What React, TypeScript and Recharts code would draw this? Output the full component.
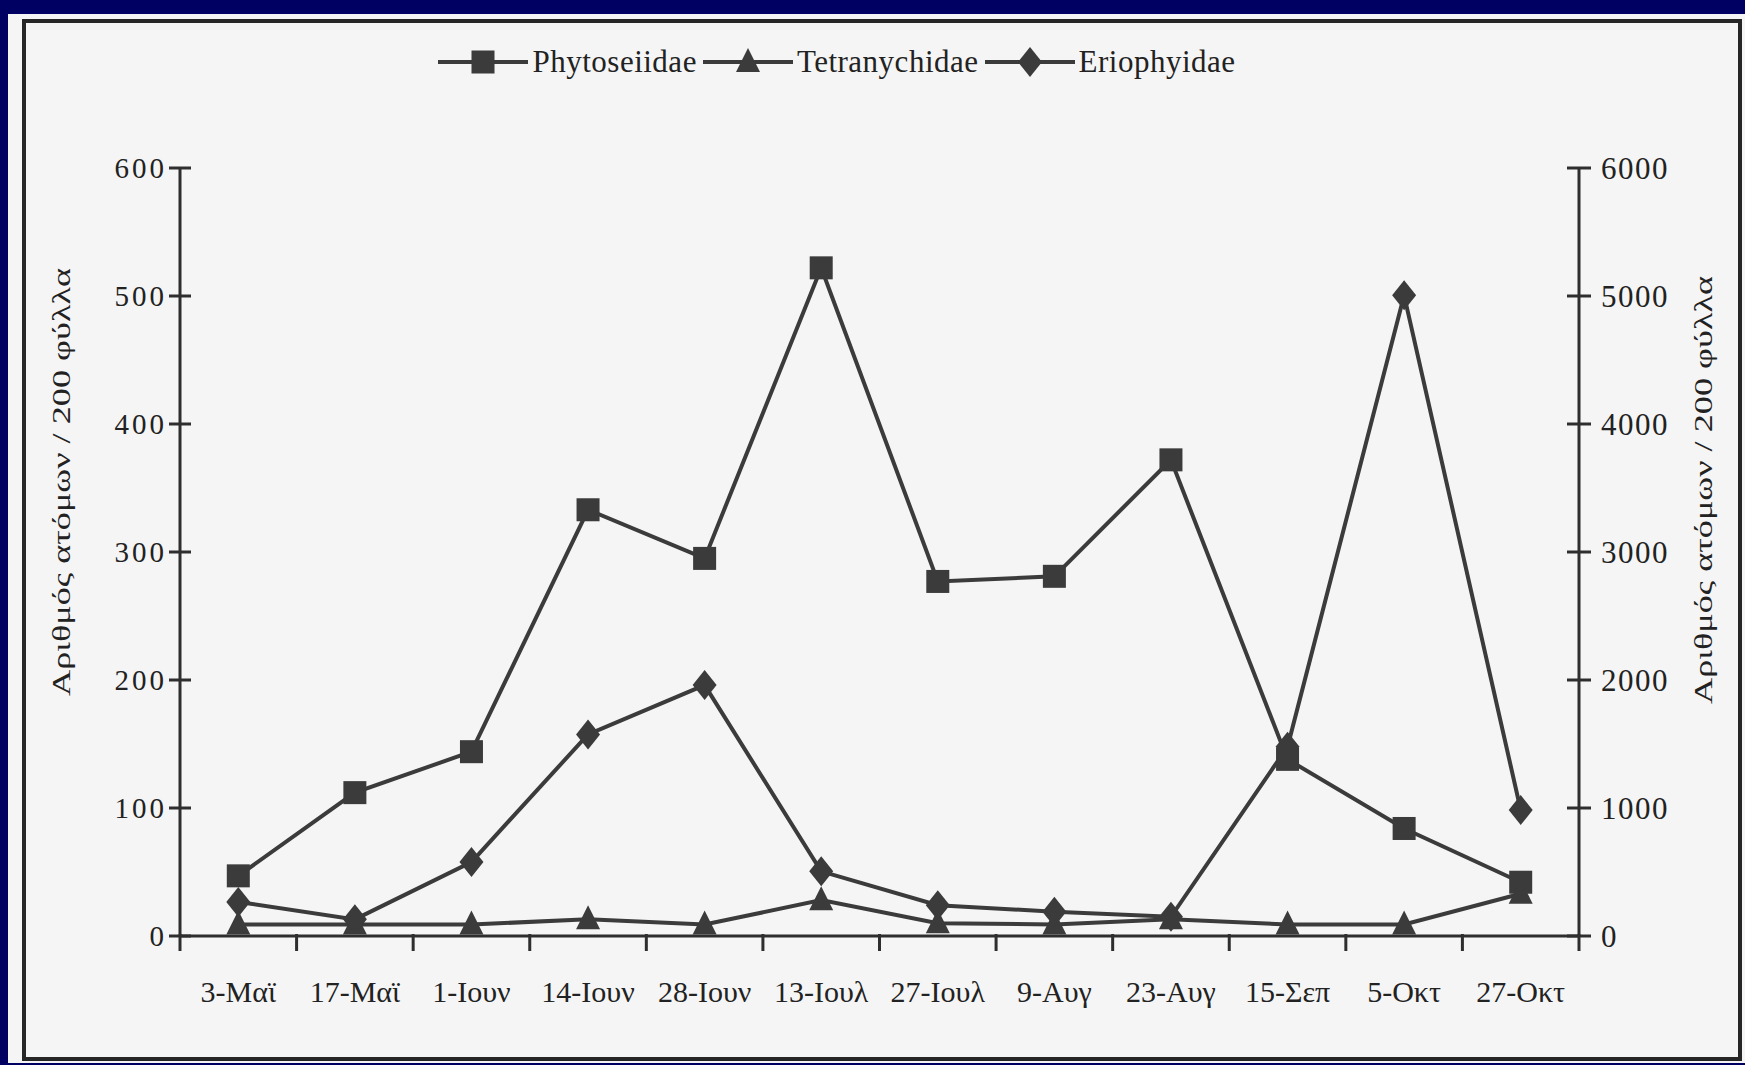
import { LineChart, Line, XAxis, YAxis, Legend, Label } from 'recharts';

const dates = ['3-Μαϊ', '17-Μαϊ', '1-Ιουν', '14-Ιουν', '28-Ιουν', '13-Ιουλ', '27-Ιουλ', '9-Αυγ', '23-Αυγ', '15-Σεπ', '5-Οκτ', '27-Οκτ'];
const phytoseiidae = [47, 112, 144, 333, 295, 522, 277, 281, 372, 138, 84, 42];
const tetranychidae = [9, 9, 9, 13, 9, 28, 10, 9, 13, 9, 9, 33];
const eriophyidae = [266, 130, 578, 1575, 1960, 505, 240, 190, 150, 1478, 5005, 984];

const seriesNames = ['Phytoseiidae', 'Tetranychidae', 'Eriophyidae'];
const leftTicks = [0, 100, 200, 300, 400, 500, 600];
const rightTicks = [0, 1000, 2000, 3000, 4000, 5000, 6000];
const axisTitle = 'Αριθμός ατόμων / 200 φύλλα';

const data = dates.map((date, i) => ({
  date,
  Phytoseiidae: phytoseiidae[i],
  Tetranychidae: tetranychidae[i],
  Eriophyidae: eriophyidae[i],
}));

const SERIF = '"Liberation Serif", "DejaVu Serif", serif';
const INK = '#2e2e2e';
const LINE = '#3b3b3b';
const TEXT = '#222';

// tick geometry (recharts places tick text at axis +/- tickSize + tickMargin)
const L_TICK = 11;
const L_GAP = 2;
const R_TICK = 12;
const R_GAP = 10;
const X_GAP = 45;
const X_TICK = 15;

type Shape = 'square' | 'triangle' | 'diamond';
const shapes: Record<string, Shape> = {
  Phytoseiidae: 'square',
  Tetranychidae: 'triangle',
  Eriophyidae: 'diamond',
};

function marker(shape: Shape, cx: number, cy: number, key?: string) {
  if (shape === 'square') {
    return <rect key={key} x={cx - 11.5} y={cy - 11.5} width={23} height={23} fill={LINE} />;
  }
  if (shape === 'triangle') {
    return (
      <polygon
        key={key}
        points={`${cx},${cy - 14} ${cx + 12},${cy + 10} ${cx - 12},${cy + 10}`}
        fill={LINE}
      />
    );
  }
  return (
    <polygon
      key={key}
      points={`${cx},${cy - 15} ${cx + 12},${cy} ${cx},${cy + 15} ${cx - 12},${cy}`}
      fill={LINE}
    />
  );
}

const dotFor = (name: string) => (p: any) =>
  marker(shapes[name], p.cx, p.cy, `${name}-${p.index}`);

function LeftTick(props: any) {
  const { x, y, payload } = props;
  const axisX = x + L_TICK + L_GAP;
  return (
    <g>
      <line x1={axisX} x2={axisX + L_TICK} y1={y} y2={y} stroke={INK} strokeWidth={3} />
      <text x={x} y={y} dy="0.355em" textAnchor="end" fill={TEXT} fontSize={29} fontFamily={SERIF} letterSpacing={3}>
        {payload.value}
      </text>
    </g>
  );
}

function RightTick(props: any) {
  const { x, y, payload } = props;
  const axisX = x - R_TICK - R_GAP;
  return (
    <g>
      <line x1={axisX - R_TICK} x2={axisX} y1={y} y2={y} stroke={INK} strokeWidth={3} />
      <text x={x} y={y} dy="0.355em" textAnchor="start" fill={TEXT} fontSize={31} fontFamily={SERIF} letterSpacing={1.5}>
        {payload.value}
      </text>
    </g>
  );
}

function DateTick(props: any) {
  const { x, y, payload, index, width, visibleTicksCount } = props;
  const count = visibleTicksCount || dates.length;
  const half = (width || 1399) / count / 2;
  const axisY = y - X_GAP;
  const bounds = index === count - 1 ? [x - half, x + half] : [x - half];
  return (
    <g>
      {bounds.map((bx) => (
        <line key={bx} x1={bx} x2={bx} y1={axisY - 2} y2={axisY + X_TICK} stroke={INK} strokeWidth={3} />
      ))}
      <text x={x} y={y} dy="0.71em" textAnchor="middle" fill={TEXT} fontSize={30} fontFamily={SERIF}>
        {payload.value}
      </text>
    </g>
  );
}

function renderLegend(props: any) {
  const items = [...(props.payload || [])].sort(
    (a: any, b: any) => seriesNames.indexOf(a.dataKey) - seriesNames.indexOf(b.dataKey)
  );
  return (
    <div
      style={{
        display: 'flex',
        justifyContent: 'center',
        alignItems: 'center',
        height: 40,
        fontFamily: SERIF,
        fontSize: 31,
        letterSpacing: 0.5,
        color: TEXT,
      }}
    >
      {items.map((entry: any) => (
        <div key={entry.value} style={{ display: 'flex', alignItems: 'center', marginRight: 6 }}>
          <svg width={90} height={32}>
            <line x1={0} y1={16} x2={90} y2={16} stroke={LINE} strokeWidth={4} />
            {marker(shapes[entry.dataKey as string], 45, 16)}
          </svg>
          <span style={{ marginLeft: 4 }}>{entry.value}</span>
        </div>
      ))}
    </div>
  );
}

const titleAt = (dx: number, dy: number) => (props: any) => {
  const vb = props.viewBox;
  const x = vb.x + dx;
  const y = vb.y + vb.height / 2 + dy;
  return (
    <text
      x={x}
      y={y}
      transform={`rotate(-90 ${x} ${y})`}
      textAnchor="middle"
      dominantBaseline="central"
      fontFamily={SERIF}
      fontSize={26}
      fill={TEXT}
      textLength={428}
      lengthAdjust="spacingAndGlyphs"
    >
      {axisTitle}
    </text>
  );
};

export default function App() {
  return (
    <div
      style={{
        position: 'absolute',
        left: 0,
        top: 0,
        width: 1745,
        height: 1065,
        background: '#000062',
        overflow: 'hidden',
      }}
    >
      <div
        style={{
          position: 'absolute',
          left: 8,
          top: 14,
          width: 1737,
          height: 1049,
          background: '#f5f5f5',
        }}
      />
      <div
        style={{
          position: 'absolute',
          left: 22,
          top: 19,
          width: 1720,
          height: 1042,
          border: '4px solid #262626',
          boxSizing: 'border-box',
        }}
      />
      <div style={{ position: 'absolute', left: 0, top: 0 }}>
        <LineChart
          width={1745}
          height={1065}
          data={data}
          margin={{ top: 168, right: 86, bottom: 49, left: 100 }}
        >
          <XAxis
            dataKey="date"
            scale="band"
            interval={0}
            tickLine={false}
            tickSize={0}
            tickMargin={X_GAP}
            height={80}
            axisLine={{ stroke: INK, strokeWidth: 3 }}
            tick={DateTick}
          />
          <YAxis
            yAxisId="left"
            domain={[0, 600]}
            ticks={leftTicks}
            width={80}
            tickSize={L_TICK}
            tickMargin={L_GAP}
            axisLine={{ stroke: INK, strokeWidth: 3 }}
            tickLine={{ stroke: INK, strokeWidth: 3 }}
            tick={LeftTick}
          >
            <Label content={titleAt(-39, -70)} />
          </YAxis>
          <YAxis
            yAxisId="right"
            orientation="right"
            domain={[0, 6000]}
            ticks={rightTicks}
            width={80}
            tickSize={R_TICK}
            tickMargin={R_GAP}
            axisLine={{ stroke: INK, strokeWidth: 3 }}
            tickLine={{ stroke: INK, strokeWidth: 3 }}
            tick={RightTick}
          >
            <Label content={titleAt(124, -62)} />
          </YAxis>
          <Legend
            verticalAlign="middle"
            align="center"
            layout="horizontal"
            content={renderLegend}
            wrapperStyle={{ top: 42, left: 0, width: 1680, height: 40 }}
          />
          <Line
            yAxisId="left"
            dataKey="Phytoseiidae"
            name="Phytoseiidae"
            stroke={LINE}
            strokeWidth={4}
            dot={dotFor('Phytoseiidae')}
            activeDot={false}
            isAnimationActive={false}
          />
          <Line
            yAxisId="left"
            dataKey="Tetranychidae"
            name="Tetranychidae"
            stroke={LINE}
            strokeWidth={4}
            dot={dotFor('Tetranychidae')}
            activeDot={false}
            isAnimationActive={false}
          />
          <Line
            yAxisId="right"
            dataKey="Eriophyidae"
            name="Eriophyidae"
            stroke={LINE}
            strokeWidth={4}
            dot={dotFor('Eriophyidae')}
            activeDot={false}
            isAnimationActive={false}
          />
        </LineChart>
      </div>
    </div>
  );
}
